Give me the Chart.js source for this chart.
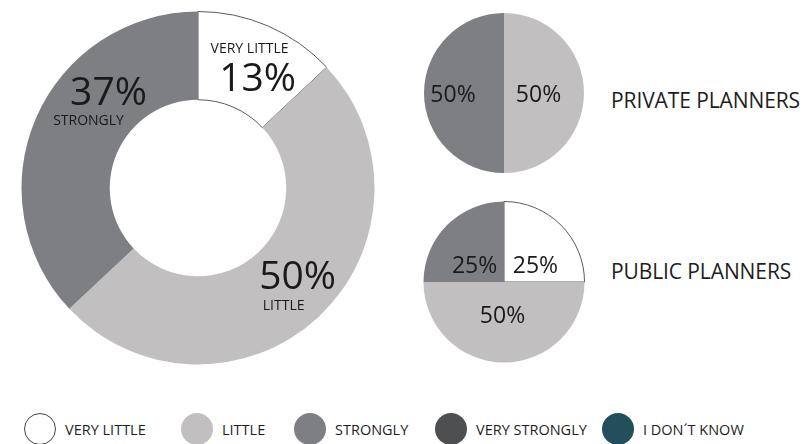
<!DOCTYPE html>
<html>
<head>
<meta charset="utf-8">
<script src="https://cdn.jsdelivr.net/npm/chart.js@4.4.1/dist/chart.umd.min.js"></script>
<style>
  html, body { margin: 0; padding: 0; background: #fff; }
  body { width: 808px; height: 444px; position: relative; overflow: hidden; font-family: "Open Sans", sans-serif; color: #1e1e1e; }
  .wrap { position: absolute; }
  .side { position: absolute; left: 611px; font-size: 21px; line-height: 21px; white-space: nowrap; letter-spacing: -0.1px; }
  .legend-item { position: absolute; top: 413px; height: 32px; display: flex; align-items: center; white-space: nowrap; }
  .legend-dot { width: 32px; height: 32px; border-radius: 50%; box-sizing: border-box; margin-right: 9px; }
  .legend-text { font-size: 14.5px; }
</style>
</head>
<body>
<div class="wrap" style="left:21px;top:11px;width:354px;height:354px;"><canvas id="chart-overall"></canvas></div>
<div class="wrap" style="left:424px;top:13px;width:160px;height:160px;"><canvas id="chart-private"></canvas></div>
<div class="wrap" style="left:423px;top:201px;width:162px;height:162px;"><canvas id="chart-public"></canvas></div>
<div class="side" id="label-private" style="top:90px;"></div>
<div class="side" id="label-public" style="top:261px;"></div>
<div id="legend"></div>

<script>
// ---- data ----
const categories = ['VERY LITTLE', 'LITTLE', 'STRONGLY', 'VERY STRONGLY', 'I DON\u00B4T KNOW'];
const categoryColors = ['#ffffff', '#c1bfc0', '#7e7f83', '#4e4f51', '#234e5b'];
const overallValues = [13, 50, 37];   // very little, little, strongly
const privateValues = [0, 50, 50];
const publicValues = [25, 50, 25];
const groupLabels = ['PRIVATE PLANNERS', 'PUBLIC PLANNERS'];

// legend layout (left edge of each item)
const legendLeft = [24, 181, 294, 435, 602];

// Draws text lines around each slice centre; '%' means the slice value
const sliceLabels = {
  id: 'sliceLabels',
  afterDatasetsDraw(chart, args, opts) {
    const { ctx } = chart;
    const values = chart.data.datasets[0].data;
    chart.getDatasetMeta(0).data.forEach((arc, i) => {
      const lines = opts.lines[i];
      if (!lines || !values[i]) return;
      const p = arc.tooltipPosition();
      lines.forEach((l) => {
        const txt = l.text === '%' ? values[i] + '%' : l.text;
        ctx.save();
        ctx.font = `${l.size}px "Open Sans"`;
        ctx.fillStyle = '#1a1a1a';
        ctx.textAlign = 'center';
        ctx.textBaseline = 'alphabetic';
        ctx.fillText(txt, p.x + l.dx, p.y + l.dy + l.size * 0.357);
        ctx.restore();
      });
    });
  },
};

function makePie(id, values, cutout, lines) {
  return new Chart(document.getElementById(id), {
    type: 'doughnut',
    data: {
      labels: categories.slice(0, values.length),
      datasets: [{
        data: values,
        backgroundColor: categoryColors.slice(0, values.length),
        borderColor: '#5a5a5a',
        borderWidth: (c) => (c.dataIndex === 0 && values[0] > 0 ? 1 : 0),
      }],
    },
    options: {
      responsive: true,
      maintainAspectRatio: false,
      animation: false,
      cutout: cutout,
      layout: { padding: 0 },
      plugins: {
        legend: { display: false },
        tooltip: { enabled: false },
        sliceLabels: { lines },
      },
    },
    plugins: [sliceLabels],
  });
}

makePie('chart-overall', overallValues, '50%', [
  [{ text: 'VERY LITTLE', size: 14, dx: -1, dy: -19 }, { text: '%', size: 39, dx: 7, dy: 11 }],
  [{ text: '%', size: 39, dx: 9, dy: -9 }, { text: 'LITTLE', size: 14, dx: -5, dy: 21 }],
  [{ text: '%', size: 39, dx: 32, dy: -44 }, { text: 'STRONGLY', size: 14, dx: 12, dy: -15 }],
]);

makePie('chart-private', privateValues, 0, [
  null,
  [{ text: '%', size: 23, dx: -5.5, dy: 0.5 }],
  [{ text: '%', size: 23, dx: -11, dy: 0.5 }],
]);

makePie('chart-public', publicValues, 0, [
  [{ text: '%', size: 23, dx: 3, dy: 11 }],
  [{ text: '%', size: 23, dx: -1.5, dy: -7 }],
  [{ text: '%', size: 23, dx: -1, dy: 11 }],
]);

document.getElementById('label-private').textContent = groupLabels[0];
document.getElementById('label-public').textContent = groupLabels[1];

// Legend
const legend = document.getElementById('legend');
categories.forEach((name, i) => {
  const item = document.createElement('div');
  item.className = 'legend-item';
  item.style.left = legendLeft[i] + 'px';
  const dot = document.createElement('span');
  dot.className = 'legend-dot';
  dot.style.background = categoryColors[i];
  if (i === 0) dot.style.border = '1px solid #444';
  const txt = document.createElement('span');
  txt.className = 'legend-text';
  txt.textContent = name;
  item.appendChild(dot);
  item.appendChild(txt);
  legend.appendChild(item);
});
</script>
</body>
</html>
